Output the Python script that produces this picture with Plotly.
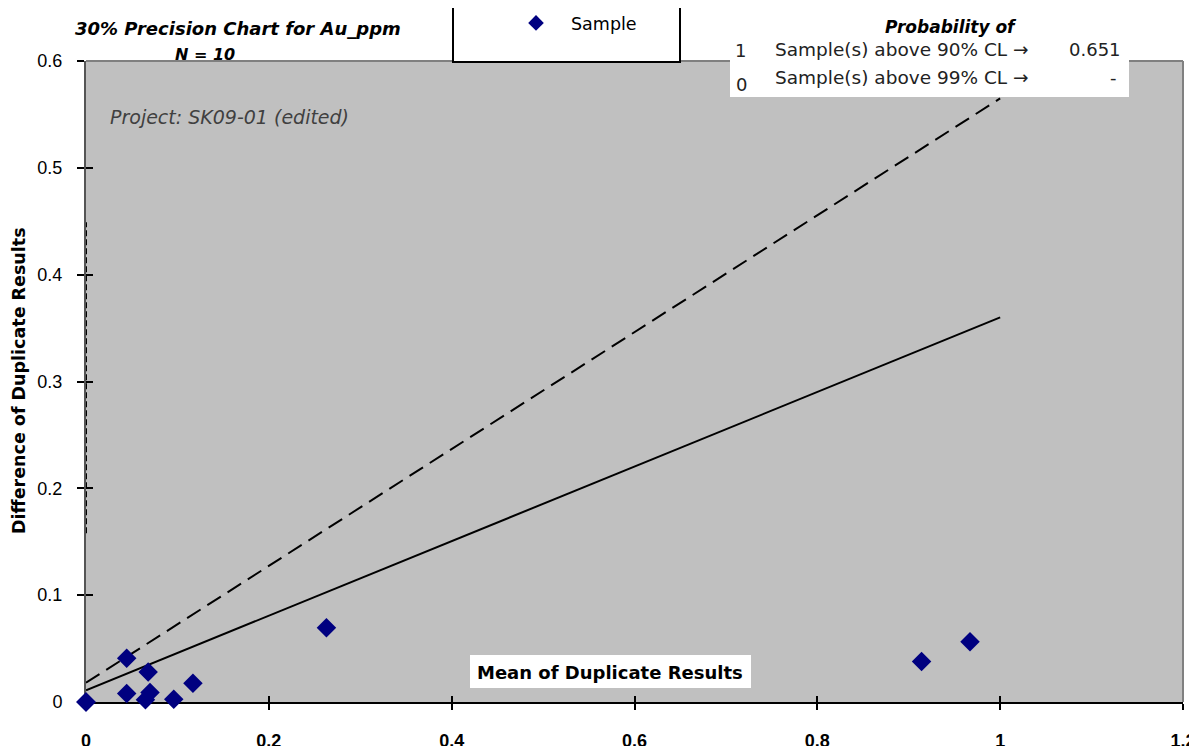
import plotly.graph_objects as go

# Data
sample_mean = [0.0, 0.0, 0.0445, 0.0445, 0.068, 0.070, 0.065, 0.096, 0.117, 0.263, 0.914, 0.967]
sample_diff = [0.0, 0.0, 0.041, 0.008, 0.028, 0.009, 0.002, 0.0025, 0.0175, 0.0696, 0.038, 0.0565]

line90_x = [0.0, 1.0]
line90_y = [0.011, 0.360]
line99_x = [0.0, 1.0]
line99_y = [0.018, 0.565]
vline_x = [0.0, 0.0]
vline_y = [0.158, 0.449]

x_ticks = [0, 0.2, 0.4, 0.6, 0.8, 1, 1.2]
x_tick_labels = ["0", "0.2", "0.4", "0.6", "0.8", "1", "1.2"]
y_ticks = [0, 0.1, 0.2, 0.3, 0.4, 0.5, 0.6]
y_tick_labels = ["0", "0.1", "0.2", "0.3", "0.4", "0.5", "0.6"]

FONT = "Arial, Liberation Sans, sans-serif"
WIDE = "DejaVu Sans, Verdana, sans-serif"

# page body has an 8px default margin, so figure spans screen x 8..1197, y 8..746
OFF = 8

fig = go.Figure()

fig.add_trace(go.Scatter(x=vline_x, y=vline_y, mode="lines",
                         line=dict(color="black", width=2, dash="6px,3px"),
                         showlegend=False, hoverinfo="skip", cliponaxis=False))
fig.add_trace(go.Scatter(x=line99_x, y=line99_y, mode="lines",
                         line=dict(color="black", width=2, dash="16px,8px"),
                         showlegend=False, hoverinfo="skip"))
fig.add_trace(go.Scatter(x=line90_x, y=line90_y, mode="lines",
                         line=dict(color="black", width=2),
                         showlegend=False, hoverinfo="skip"))
fig.add_trace(go.Scatter(x=sample_mean, y=sample_diff, mode="markers", name="Sample",
                         marker=dict(symbol="diamond", color="#000080", size=15,
                                     line=dict(width=0)),
                         cliponaxis=False, showlegend=True))

fig.add_trace(go.Scatter(x=[None], y=[None], xaxis="x2", yaxis="y2", showlegend=False))

fig.update_layout(
    width=1197 - OFF, height=746 - OFF,
    margin=dict(l=86 - OFF, r=14, t=61 - OFF, b=44, autoexpand=False),
    paper_bgcolor="white",
    plot_bgcolor="#C0C0C0",
    font=dict(family=FONT, color="black", size=16),
    xaxis=dict(range=[0, 1.2], tickvals=x_ticks, ticktext=x_tick_labels, automargin=False,
               showgrid=False, zeroline=False, showline=True, linecolor="black", linewidth=2,
               ticks="outside", ticklen=6, tickwidth=2, tickcolor="black",
               tickfont=dict(size=18, family=FONT, weight="bold"),
               ticklabelstandoff=15, layer="below traces"),
    yaxis=dict(range=[0, 0.6], tickvals=y_ticks, ticktext=y_tick_labels, automargin=False,
               showgrid=False, zeroline=False, showline=True, linecolor="#555555", linewidth=2,
               ticks="outside", ticklen=7, tickwidth=2, tickcolor="black",
               tickfont=dict(size=18, family=FONT), ticklabelstandoff=11,
               layer="below traces"),
    xaxis2=dict(range=[0, 1.2], overlaying="x", tickvals=x_ticks, showticklabels=False,
                ticks="inside", ticklen=6, tickwidth=2, tickcolor="black", automargin=False,
                showgrid=False, zeroline=False, showline=False, anchor="y2"),
    yaxis2=dict(range=[0, 0.6], overlaying="y", tickvals=y_ticks, showticklabels=False,
                ticks="inside", ticklen=7, tickwidth=2, tickcolor="black", automargin=False,
                showgrid=False, zeroline=False, showline=False, anchor="x2"),
    legend=dict(x=(501 - 86) / 1097, y=1 + (61 - 5) / 641, xanchor="left", yanchor="top",
                bgcolor="rgba(0,0,0,0)", borderwidth=0, itemwidth=60,
                font=dict(size=17.5, family=WIDE), itemsizing="constant"),
    showlegend=True,
)

def px(xp):
    return (xp - 86) / 1097
def py(yp):
    return (702 - yp) / 641

shapes = [
    dict(type="line", xref="paper", yref="paper", x0=0, x1=1, y0=1, y1=1,
         line=dict(color="#808080", width=2)),
    dict(type="line", xref="paper", yref="paper", x0=1, x1=1, y0=0, y1=1,
         line=dict(color="#808080", width=2)),
    dict(type="rect", xref="paper", yref="paper", x0=px(453), x1=px(680), y0=py(62), y1=py(-10),
         fillcolor="white", line=dict(color="black", width=2), layer="above"),
    dict(type="rect", xref="paper", yref="paper", x0=px(730), x1=px(1129), y0=py(97), y1=py(38),
         fillcolor="white", line=dict(width=0), layer="above"),
    dict(type="rect", xref="paper", yref="paper", x0=px(470), x1=px(751), y0=py(688), y1=py(655),
         fillcolor="white", line=dict(width=0), layer="above"),
]
fig.update_layout(shapes=shapes)

ARROW = '<span style="font-family:DejaVu Sans">\u2192</span>'
ann = [
    dict(text="<b><i>30% Precision Chart for Au_ppm</i></b>", x=px(238), y=py(28),
         font=dict(size=18, family=WIDE)),
    dict(text="<b><i>N = 10</i></b>", x=px(205), y=py(55), font=dict(size=16, family=WIDE)),
    dict(text="<i>Project: SK09-01 (edited)</i>", x=px(108), y=py(117), xanchor="left",
         font=dict(size=19, color="#404040", family=WIDE)),
    dict(text="<b><i>Probability of</i></b>", x=px(951), y=py(27), font=dict(size=17, family=WIDE)),
    dict(text="1", x=px(740), y=py(51), font=dict(size=18, color="#222222", family=WIDE)),
    dict(text="Sample(s) above 90% CL " + ARROW, x=px(773), y=py(50), xanchor="left",
         font=dict(size=18.5, color="#222222", family=WIDE)),
    dict(text="0.651", x=px(1123), y=py(50), xanchor="right",
         font=dict(size=18, color="#222222", family=WIDE)),
    dict(text="0", x=px(741), y=py(85), font=dict(size=18, color="#222222", family=WIDE)),
    dict(text="Sample(s) above 99% CL " + ARROW, x=px(773), y=py(78), xanchor="left",
         font=dict(size=18.5, color="#222222", family=WIDE)),
    dict(text="-", x=px(1119), y=py(78), xanchor="right",
         font=dict(size=18, color="#222222", family=WIDE)),
    dict(text="<b>Mean of Duplicate Results</b>", x=px(610), y=py(672),
         font=dict(size=18, family=WIDE)),
    dict(text="<b>Difference of Duplicate Results</b>", x=px(19), y=py(381), textangle=-90,
         font=dict(size=17.5, family=WIDE)),
]
for a in ann:
    a.setdefault("xanchor", "center")
    f = a.pop("font")
    fig.add_annotation(xref="paper", yref="paper", yanchor="middle", showarrow=False,
                       font=f, **a)

fig.write_html("out.html")
